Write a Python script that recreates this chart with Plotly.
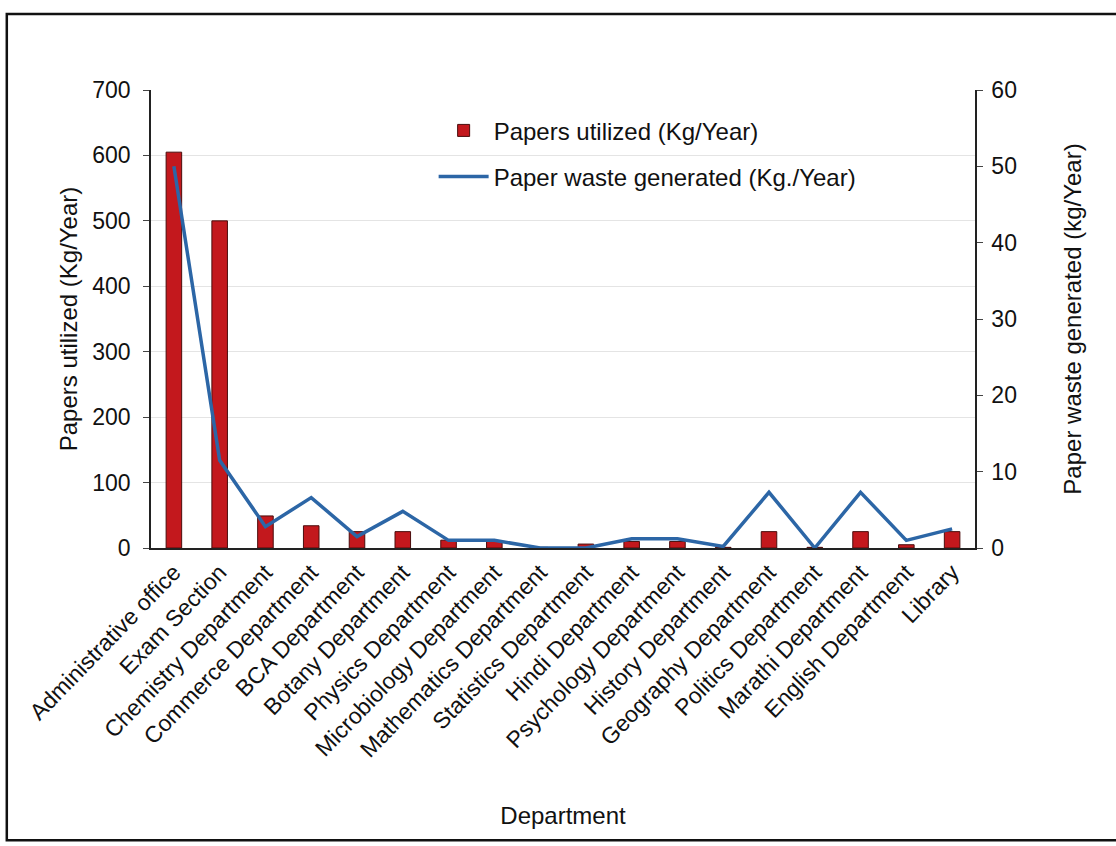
import plotly.graph_objects as go

departments = [
    "Administrative office", "Exam Section", "Chemistry Department",
    "Commerce Department", "BCA Department", "Botany Department",
    "Physics Department", "Microbiology Department", "Mathematics Department",
    "Statistics Department", "Hindi Department", "Psychology Department",
    "History Department", "Geography Department", "Politics Department",
    "Marathi Department", "English Department", "Library",
]
papers_utilized = [605, 500, 49, 34, 25, 25, 12, 10, 1, 6, 10, 10, 1, 25, 1, 25, 5, 25]
paper_waste = [50, 11.5, 2.8, 6.6, 1.5, 4.8, 1, 1, 0, 0, 1.2, 1.2, 0.2, 7.3, 0, 7.3, 1, 2.5]

left_ticks = list(range(0, 701, 100))
right_ticks = list(range(0, 61, 10))

FONT = "Liberation Sans, Arial, sans-serif"

fig = go.Figure()
fig.add_trace(go.Bar(
    x=departments, y=papers_utilized,
    name="Papers utilized (Kg/Year)",
    marker=dict(color="#c3181d", line=dict(color="#4a0d0d", width=1)),
    legendgroup="a",
))
fig.add_trace(go.Scatter(
    x=departments, y=paper_waste, yaxis="y2",
    mode="lines", name="Paper waste generated (Kg./Year)",
    line=dict(color="#2c66a6", width=3.5),
    legendgroup="b",
))

fig.update_layout(
    width=1116, height=846,
    margin=dict(l=151, r=141, t=90, b=298),
    paper_bgcolor="white", plot_bgcolor="white",
    font=dict(family=FONT, size=23, color="#111111"),
    bargap=0.66,
    showlegend=True,
    legend=dict(
        x=0.343, y=0.96, xanchor="left", yanchor="top",
        bgcolor="rgba(0,0,0,0)", font=dict(size=24),
        tracegroupgap=12, itemwidth=50,
    ),
    xaxis=dict(
        type="category", tickangle=-46,
        showline=True, linecolor="#222222", linewidth=1.5,
        ticks="", showgrid=False,
        tickfont=dict(size=23),
        title=dict(text="Department", font=dict(size=24), standoff=46),
        automargin=False,
    ),
    yaxis=dict(
        range=[0, 700], tickvals=left_ticks,
        showline=True, linecolor="#222222", linewidth=1.5,
        ticks="outside", ticklen=6, tickcolor="#444444",
        ticklabelstandoff=8,
        showgrid=True, gridcolor="#e4e4e4", gridwidth=1,
        zeroline=False, tickfont=dict(size=23),
        title=dict(text="Papers utilized (Kg/Year)", font=dict(size=24), standoff=8),
        automargin=False,
    ),
    yaxis2=dict(
        range=[0, 60], tickvals=right_ticks,
        overlaying="y", side="right",
        showline=True, linecolor="#222222", linewidth=1.5,
        ticks="outside", ticklen=6, tickcolor="#444444",
        ticklabelstandoff=4,
        showgrid=False, zeroline=False, tickfont=dict(size=23),
        title=dict(text="Paper waste generated (kg/Year)", font=dict(size=24), standoff=48),
        automargin=False,
    ),
    shapes=[dict(
        type="rect", xref="paper", yref="paper",
        x0=-0.175, x1=1.18, y0=-0.638, y1=1.166,
        line=dict(color="#111111", width=2.5), fillcolor="rgba(0,0,0,0)",
        layer="below",
    )],
)

fig.write_html("out.html")
